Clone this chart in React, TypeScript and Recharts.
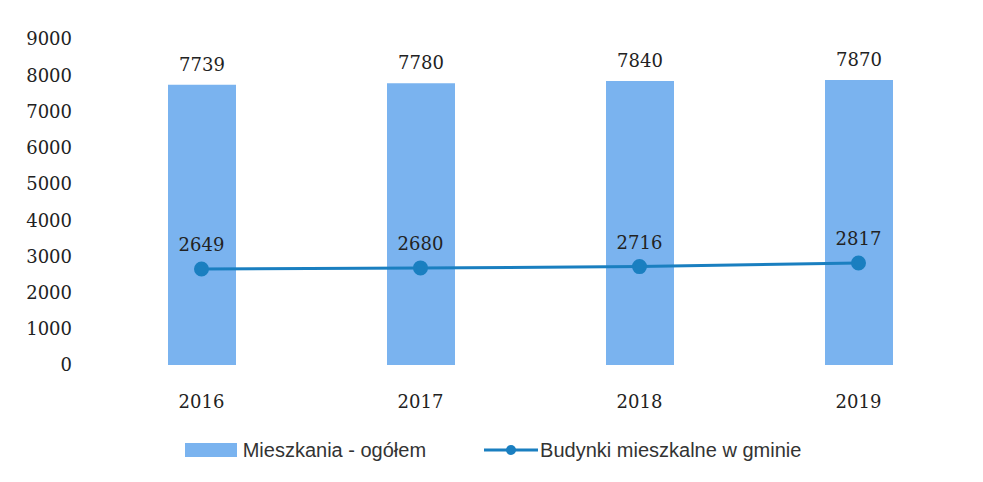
import {
  ComposedChart,
  Bar,
  Line,
  XAxis,
  YAxis,
  Legend,
  LabelList,
} from "recharts";

const years = ["2016", "2017", "2018", "2019"];
const mieszkania = [7739, 7780, 7840, 7870];
const budynki = [2649, 2680, 2716, 2817];
const yTicks = [0, 1000, 2000, 3000, 4000, 5000, 6000, 7000, 8000, 9000];

const barColor = "#7ab3ef";
const lineColor = "#1a7fc0";
const serif = "'DejaVu Serif', 'Liberation Serif', serif";
const narrow = "'Liberation Sans Narrow', 'Liberation Sans', sans-serif";

const data = years.map((year, i) => ({
  year,
  mieszkania: mieszkania[i],
  budynki: budynki[i],
}));

const LegendBox = () => (
  <div
    style={{
      display: "flex",
      justifyContent: "center",
      alignItems: "center",
      fontFamily: narrow,
      fontSize: 20,
      color: "#333",
      marginLeft: 18,
      height: 26,
    }}
  >
    <span style={{ display: "flex", alignItems: "center", marginRight: 58 }}>
      <span
        style={{
          display: "inline-block",
          width: 52,
          height: 14,
          background: barColor,
          marginRight: 6,
        }}
      />
      Mieszkania - ogółem
    </span>
    <span style={{ display: "flex", alignItems: "center" }}>
      <svg width={54} height={14} style={{ marginRight: 2 }}>
        <line x1={0} y1={7} x2={54} y2={7} stroke={lineColor} strokeWidth={3} />
        <circle cx={27} cy={7} r={5} fill={lineColor} />
      </svg>
      Budynki mieszkalne w gminie
    </span>
  </div>
);

export default function App() {
  return (
    <div
      style={{
        position: "absolute",
        left: 0,
        top: 0,
        width: 983,
        height: 482,
        background: "#fff",
      }}
    >
      <ComposedChart
        width={983}
        height={482}
        data={data}
        margin={{ top: 39, right: 15, bottom: 19, left: 0 }}
      >
        <XAxis
          dataKey="year"
          axisLine={false}
          tickLine={false}
          tickMargin={24}
          height={72}
          tick={{ fill: "#222", fontSize: 18, fontFamily: serif }}
        />
        <YAxis
          width={92}
          domain={[0, 9000]}
          ticks={yTicks}
          axisLine={false}
          tickLine={false}
          tickMargin={14}
          tick={{ fill: "#222", fontSize: 18, fontFamily: serif }}
        />
        <Legend verticalAlign="bottom" content={<LegendBox />} />
        <Bar
          dataKey="mieszkania"
          fill={barColor}
          barSize={68}
          isAnimationActive={false}
        >
          <LabelList
            dataKey="mieszkania"
            position="top"
            offset={14}
            fill="#222"
            fontSize={18}
            fontFamily={serif}
          />
        </Bar>
        <Line
          dataKey="budynki"
          stroke={lineColor}
          strokeWidth={3}
          dot={{ r: 6, fill: lineColor, stroke: lineColor }}
          isAnimationActive={false}
        >
          <LabelList
            dataKey="budynki"
            position="top"
            offset={18}
            fill="#222"
            fontSize={18}
            fontFamily={serif}
          />
        </Line>
      </ComposedChart>
    </div>
  );
}
